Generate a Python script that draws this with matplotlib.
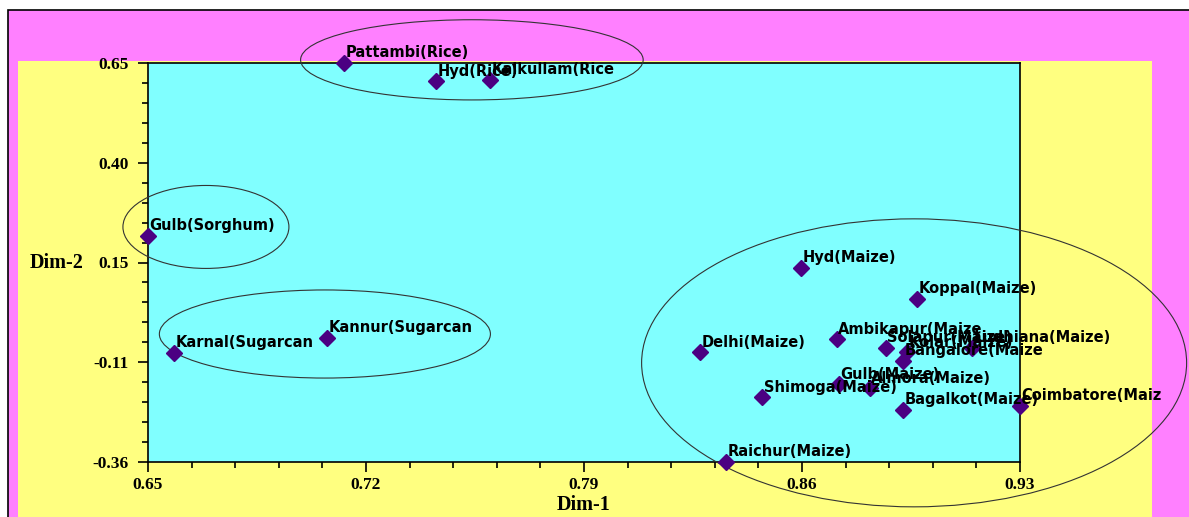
import matplotlib.pyplot as plt
from matplotlib.patches import Ellipse, Rectangle
from matplotlib.ticker import AutoMinorLocator

#####
# Data

names = [
    'Pattambi(Rice)', 'Hyd(Rice)', 'Kalkullam(Rice',
    'Gulb(Sorghum)',
    'Karnal(Sugarcan', 'Kannur(Sugarcan',
    'Hyd(Maize)', 'Koppal(Maize)', 'Ambikapur(Maize', 'Solapur(Maize)',
    'Kolar(Maize)', 'Ludhiana(Maize)', 'Bangalore(Maize', 'Delhi(Maize)',
    'Gulb(Maize)', 'Almora(Maize)', 'Shimoga(Maize)', 'Bagalkot(Maize)',
    'Coimbatore(Maiz', 'Raichur(Maize)',
]

dim1 = [
    0.713, 0.7425, 0.7598,
    0.650,
    0.6583, 0.7075,
    0.8597, 0.897, 0.8712, 0.887,
    0.8937, 0.9146, 0.8924, 0.8272,
    0.8719, 0.8818, 0.8472, 0.8924,
    0.930, 0.8356,
]

dim2 = [
    0.650, 0.604, 0.607,
    0.212,
    -0.084, -0.046,
    0.131, 0.053, -0.049, -0.071,
    -0.082, -0.071, -0.104, -0.082,
    -0.163, -0.173, -0.196, -0.228,
    -0.218, -0.360,
]

x_ticks = [0.65, 0.72, 0.79, 0.86, 0.93]
y_ticks = [0.65, 0.3975, 0.145, -0.1075, -0.36]
y_tick_labels = ['0.65', '0.40', '0.15', '-0.11', '-0.36']

# group outlines (center x, center y, width, height) in data units
groups = [
    (0.754, 0.658, 0.110, 0.203),   # rice
    (0.6686, 0.235, 0.0533, 0.210),  # sorghum
    (0.7068, -0.036, 0.1063, 0.223),  # sugarcane
    (0.896, -0.109, 0.175, 0.729),   # maize
]

PINK = '#ff80ff'
YELLOW = '#ffff80'
CYAN = '#80ffff'
MARK = '#4b0082'

fig = plt.figure(figsize=(11.89, 5.17), dpi=100)
fig.patch.set_facecolor('white')

# outer pink frame and yellow panel
fig.patches.append(Rectangle((8 / 1189, -0.2), 1.2, 0.2 + 1 - 10 / 517,
                             transform=fig.transFigure, facecolor=PINK,
                             edgecolor='black', linewidth=1.2, zorder=-2))
fig.patches.append(Rectangle((18 / 1189, -0.2), (1152 - 18) / 1189,
                             0.2 + 1 - 61 / 517,
                             transform=fig.transFigure, facecolor=YELLOW,
                             edgecolor='none', zorder=-1))

ax = fig.add_axes([148 / 1189, 55 / 517, 872 / 1189, 399 / 517])
ax.set_facecolor(CYAN)
ax.set_xlim(0.65, 0.93)
ax.set_ylim(-0.36, 0.65)

ax.plot(dim1, dim2, linestyle='none', marker='D', markersize=8,
        color=MARK, clip_on=False, zorder=5)

for n, x, y in zip(names, dim1, dim2):
    ax.annotate(n, (x, y), xytext=(1, 4), textcoords='offset points',
                ha='left', va='baseline', fontsize=10.5, fontweight='bold',
                family='DejaVu Sans', color='black',
                annotation_clip=False, zorder=6)

for cx, cy, w, h in groups:
    ax.add_patch(Ellipse((cx, cy), w, h, fill=False, edgecolor='#333333',
                         linewidth=0.8, clip_on=False, zorder=4))

ax.set_xticks(x_ticks)
ax.set_xticklabels(['%.2f' % t for t in x_ticks])
ax.set_yticks(y_ticks)
ax.set_yticklabels(y_tick_labels)
ax.xaxis.set_minor_locator(AutoMinorLocator(5))
ax.yaxis.set_minor_locator(AutoMinorLocator(5))
ax.tick_params(which='major', length=7, width=1.2, direction='out')
ax.tick_params(which='minor', length=4.5, width=1.2, direction='out')
ax.tick_params(axis='y', pad=7)
ax.tick_params(axis='x', pad=4)
for lab in ax.get_xticklabels() + ax.get_yticklabels():
    lab.set_family('Liberation Serif')
    lab.set_fontweight('bold')
    lab.set_fontsize(12.5)

for s in ax.spines.values():
    s.set_linewidth(1.2)

fig.text(584 / 1189, 1 - 505 / 517, 'Dim-1', ha='center', va='center',
         family='Liberation Serif', fontweight='bold', fontsize=14.5)
fig.text(57 / 1189, 1 - 263 / 517, 'Dim-2', ha='center', va='center',
         family='Liberation Serif', fontweight='bold', fontsize=14.5)

fig.savefig('out.png', dpi=100)
plt.close(fig)
